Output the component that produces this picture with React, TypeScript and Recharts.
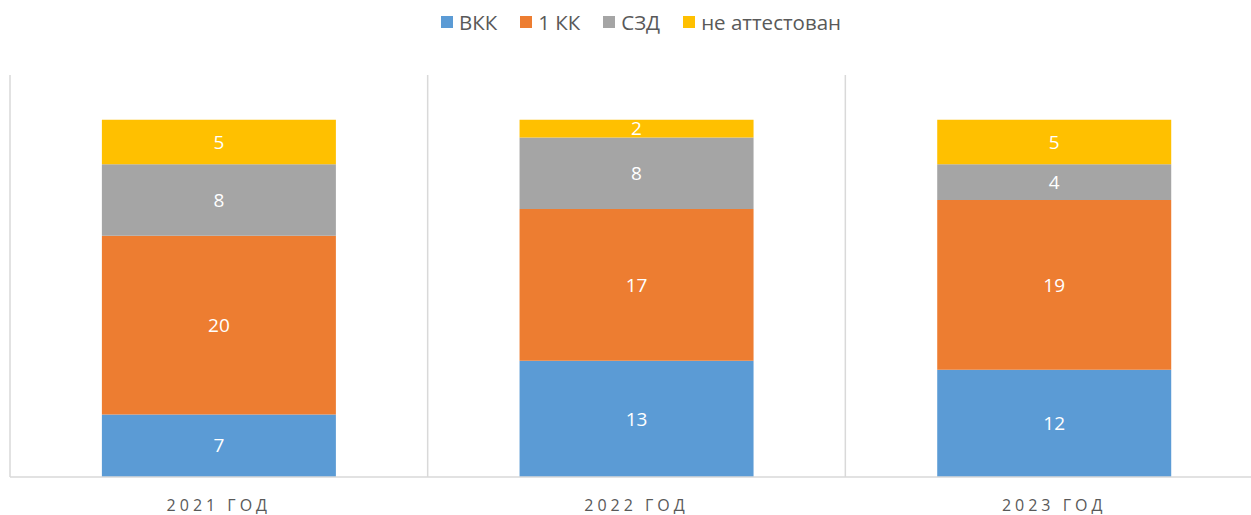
import React from 'react';
import { BarChart, Bar, XAxis, YAxis, CartesianGrid, Legend, LabelList } from 'recharts';

const years = ['2021 год', '2022 год', '2023 год'];
const vkk = [7, 13, 12];
const kk1 = [20, 17, 19];
const szd = [8, 8, 4];
const none = [5, 2, 5];

const data = years.map((name, i) => ({
  name,
  'ВКК': vkk[i],
  '1 КК': kk1[i],
  'СЗД': szd[i],
  'не аттестован': none[i],
}));

const SERIES = [
  { key: 'ВКК', color: '#5b9bd5' },
  { key: '1 КК', color: '#ed7d31' },
  { key: 'СЗД', color: '#a5a5a5' },
  { key: 'не аттестован', color: '#ffc000' },
];

const FONT = '"Open Sans", "Noto Sans", sans-serif';

const YearTick = (props: any) => {
  const { x, y, payload } = props;
  return (
    <text x={x} y={y + 26} textAnchor="middle" fill="#595959" fontSize={16} fontFamily={FONT} letterSpacing="4px">
      {String(payload.value).toUpperCase()}
    </text>
  );
};

const LegendContent = () => (
  <div style={{ display: 'flex', justifyContent: 'center', alignItems: 'center', height: 44, paddingLeft: 54 }}>
    {SERIES.map((s) => (
      <div key={s.key} style={{ display: 'flex', alignItems: 'center', marginRight: 23 }}>
        <span style={{ width: 12, height: 12, background: s.color, display: 'inline-block', marginRight: 6 }} />
        <span style={{ color: '#595959', fontSize: 20.5, fontFamily: FONT }}>{s.key}</span>
      </div>
    ))}
  </div>
);

export default function App() {
  return (
    <div style={{ position: 'absolute', left: 0, top: 0, width: 1251, height: 515, overflow: 'hidden', background: '#fff' }}>
      <BarChart
        width={1263}
        height={515}
        data={data}
        margin={{ top: 31, right: 0, left: 10, bottom: 0 }}
        barCategoryGap="22%"
        style={{ fontFamily: FONT }}
      >
        <CartesianGrid
          horizontal={false}
          stroke="#d9d9d9"
          strokeWidth={1.5}
          verticalCoordinatesGenerator={({ offset }: any) => [
            offset.left,
            offset.left + offset.width / 3,
            offset.left + (offset.width * 2) / 3,
          ]}
        />
        <XAxis
          dataKey="name"
          height={38}
          axisLine={{ stroke: '#d9d9d9', strokeWidth: 1.5 }}
          tickLine={false}
          tick={<YearTick />}
          interval={0}
        />
        <YAxis hide domain={[0, 45]} />
        <Legend
          verticalAlign="top"
          wrapperStyle={{ top: 0, left: 0, width: 1251, height: 44 }}
          content={<LegendContent />}
        />
        {SERIES.map((s) => (
          <Bar key={s.key} dataKey={s.key} stackId="a" fill={s.color} isAnimationActive={false}>
            <LabelList dataKey={s.key} position="center" fill="#ffffff" fontSize={19} fontFamily={FONT} />
          </Bar>
        ))}
      </BarChart>
    </div>
  );
}
